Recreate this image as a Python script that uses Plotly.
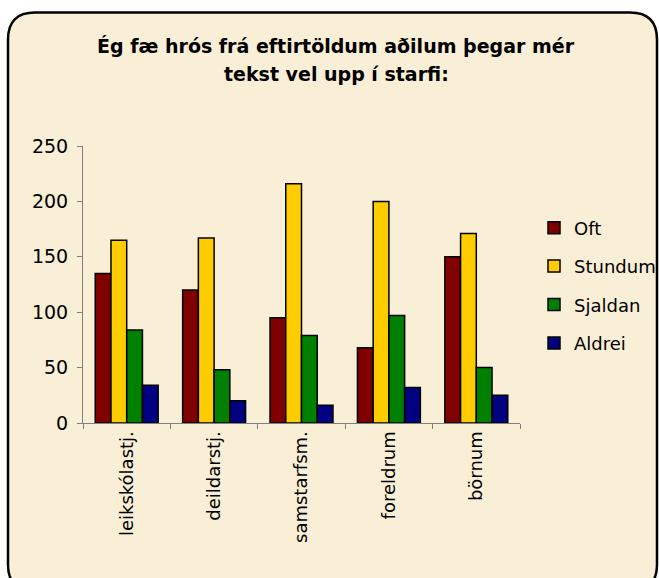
import plotly.graph_objects as go

categories = ["leikskólastj.", "deildarstj.", "samstarfsm.", "foreldrum", "börnum"]
oft = [135, 120, 95, 68, 150]
stundum = [165, 167, 216, 200, 171]
sjaldan = [84, 48, 79, 97, 50]
aldrei = [34, 20, 16, 32, 25]
series_names = ["Oft", "Stundum", "Sjaldan", "Aldrei"]
series_values = [oft, stundum, sjaldan, aldrei]
colors = ["#800000", "#FFCC00", "#008000", "#000080"]
y_ticks = [0, 50, 100, 150, 200, 250]
title_lines = ["Ég fæ hrós frá eftirtöldum aðilum þegar mér", "tekst vel upp í starfi:"]

W, H = 659, 578
# plot area in page pixels
L, R = 83, 520
T, B = 145.7, 423.3
pw, ph = R - L, B - T
FONT = "DejaVu Sans, Liberation Sans, Arial, sans-serif"

fig = go.Figure()
for name, vals, col in zip(series_names, series_values, colors):
    fig.add_trace(go.Bar(
        x=categories, y=vals, name=name,
        marker=dict(color=col, line=dict(color="black", width=1.5)),
        legendgroup=name,
    ))

def px2x(p):
    return (p - L) / pw

def px2y(p):
    return (B - p) / ph

x0, x1 = px2x(8), px2x(657)
y0, y1 = px2y(12), px2y(592)
rx, ry = 27 / pw, 27 / ph
path = (f"M {x0+rx},{y0} L {x1-rx},{y0} Q {x1},{y0} {x1},{y0-ry} "
        f"L {x1},{y1+ry} Q {x1},{y1} {x1-rx},{y1} "
        f"L {x0+rx},{y1} Q {x0},{y1} {x0},{y1+ry} "
        f"L {x0},{y0-ry} Q {x0},{y0} {x0+rx},{y0} Z")
fig.add_shape(type="path", path=path, xref="paper", yref="paper",
              fillcolor="#F9EED6", line=dict(color="black", width=2.5), layer="below")

for line, yc in zip(title_lines, [45.5, 73.5]):
    fig.add_annotation(text=f"<b>{line}</b>", xref="paper", yref="paper",
                       x=px2x(336), y=px2y(yc), xanchor="center", yanchor="middle",
                       showarrow=False, font=dict(size=19, family=FONT, color="black"))

fig.update_layout(
    width=W, height=H,
    margin=dict(l=L, r=W - R, t=T, b=H - B, pad=0, autoexpand=False),
    paper_bgcolor="white",
    plot_bgcolor="rgba(0,0,0,0)",
    font=dict(family=FONT, color="black", size=18),
    barmode="group",
    bargap=0.28,
    bargroupgap=0,
    showlegend=True,
    legend=dict(
        x=px2x(534), xanchor="left",
        y=px2y(285.5), yanchor="middle",
        bgcolor="rgba(0,0,0,0)",
        font=dict(size=18, family=FONT),
        itemwidth=30,
        tracegroupgap=12,
        traceorder="grouped",
    ),
    xaxis=dict(
        showline=True, linecolor="#808080", linewidth=1,
        ticks="outside", tickcolor="#808080", ticklen=5,
        tickson="boundaries",
        tickangle=-90,
        tickfont=dict(size=18, family=FONT),
        showgrid=False, zeroline=False,
    ),
    yaxis=dict(
        range=[0, 250], tickvals=y_ticks,
        showline=True, linecolor="#808080", linewidth=1,
        ticks="outside", tickcolor="#808080", ticklen=5,
        ticklabelstandoff=5,
        tickfont=dict(size=19, family=FONT),
        showgrid=False, zeroline=False,
    ),
)

fig.write_html(
    "out.html",
    config={"displayModeBar": False},
    post_script="document.body.style.margin='0';document.body.style.overflow='hidden';",
)
